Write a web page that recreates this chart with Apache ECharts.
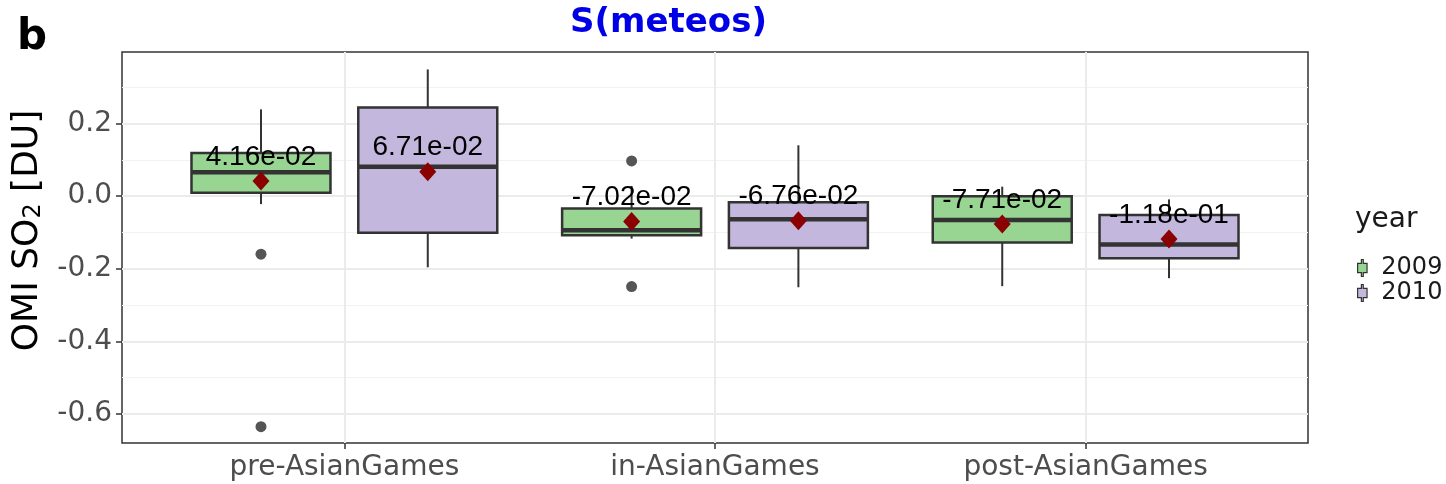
<!DOCTYPE html>
<html>
<head>
<meta charset="utf-8">
<script src="https://cdn.jsdelivr.net/npm/echarts@6/dist/echarts.min.js"></script>
<style>
  html, body { margin: 0; padding: 0; background: #fff; }
  #chart { width: 1446px; height: 484px; }
</style>
</head>
<body>
<div id="chart"></div>
<script>
const categories = ['pre-AsianGames', 'in-AsianGames', 'post-AsianGames']
const years = ['2009', '2010']
const yTicks = [-0.6, -0.4, -0.2, 0, 0.2]
const yMinorTicks = [-0.5, -0.3, -0.1, 0.1, 0.3]

// [lower whisker, Q1, median, Q3, upper whisker]
const box2009 = [
  [-0.022, 0.009, 0.066, 0.119, 0.239],
  [-0.117, -0.108, -0.094, -0.034, 0.028],
  [-0.248, -0.128, -0.066, 0.0, 0.026],
]
const box2010 = [
  [-0.196, -0.101, 0.081, 0.244, 0.349],
  [-0.251, -0.143, -0.064, -0.017, 0.14],
  [-0.226, -0.171, -0.133, -0.052, -0.009],
]
const mean2009 = [0.0416, -0.0702, -0.0771]
const mean2010 = [0.0671, -0.0676, -0.118]
// [category index, value]
const outliers2009 = [[0, -0.16], [0, -0.635], [1, 0.097], [1, -0.249]]
const outliers2010 = []

const fills = { '2009': '#98d592', '2010': '#c4b7dd' }
const DODGE = 0.225
const BOX_W = 0.375

function fmtExp(v) {
  const s = v.toExponential(2)
  return s.replace(/e([+-])(\d)$/, 'e$10$2')
}

function boxData(boxes, off) {
  return boxes.map((b, i) => [i + 1 + off].concat(b))
}

function renderBox(params, api) {
  const x = api.value(0)
  const lo = api.coord([x, api.value(1)])
  const q1 = api.coord([x, api.value(2)])
  const med = api.coord([x, api.value(3)])
  const q3 = api.coord([x, api.value(4)])
  const hi = api.coord([x, api.value(5)])
  const hw = api.size([BOX_W, 0])[0] / 2
  const fill = api.visual('color')
  const line = { stroke: '#333333', lineWidth: 2 }
  return {
    type: 'group',
    children: [
      { type: 'line', shape: { x1: hi[0], y1: hi[1], x2: q3[0], y2: q3[1] }, style: line },
      { type: 'line', shape: { x1: lo[0], y1: lo[1], x2: q1[0], y2: q1[1] }, style: line },
      {
        type: 'rect',
        shape: { x: q3[0] - hw, y: q3[1], width: hw * 2, height: q1[1] - q3[1] },
        style: { fill: fill, stroke: '#333333', lineWidth: 2.5 },
      },
      {
        type: 'line',
        shape: { x1: med[0] - hw, y1: med[1], x2: med[0] + hw, y2: med[1] },
        style: { stroke: '#333333', lineWidth: 4.5 },
      },
    ],
  }
}

function boxSeries(name, boxes, off) {
  return {
    name: name,
    type: 'custom',
    renderItem: renderBox,
    itemStyle: { color: fills[name] },
    encode: { x: 0, y: [1, 2, 3, 4, 5] },
    data: boxData(boxes, off),
    z: 2,
  }
}

function meanSeries(means, off) {
  return {
    type: 'scatter',
    symbol: 'diamond',
    symbolSize: [17, 19],
    itemStyle: { color: '#8b0000', opacity: 1 },
    data: means.map((m, i) => [i + 1 + off, m]),
    z: 4,
    label: {
      show: true,
      position: 'inside',
      offset: [0, -24],
      formatter: (p) => fmtExp(p.value[1]),
      fontFamily: 'Liberation Sans',
      fontSize: 28,
      color: '#000000',
    },
    emphasis: { disabled: true },
  }
}

function outlierSeries(pts, off) {
  return {
    type: 'scatter',
    symbolSize: 11,
    itemStyle: { color: '#555555', opacity: 1 },
    data: pts.map((p) => [p[0] + 1 + off, p[1]]),
    z: 3,
  }
}

const chart = echarts.init(document.getElementById('chart'))
chart.setOption({
  animation: false,
  textStyle: { fontFamily: 'DejaVu Sans' },
  title: [
    {
      text: 'S(meteos)',
      left: 565,
      top: 1,
      textStyle: { fontSize: 34, fontWeight: 'bold', color: '#0000e6', fontFamily: 'DejaVu Sans' },
    },
    {
      text: 'b',
      left: 12,
      top: 12,
      textStyle: { fontSize: 42, fontWeight: 'bold', color: '#000', fontFamily: 'DejaVu Sans' },
    },
    {
      text: 'year',
      left: 1350,
      top: 201,
      textStyle: { fontSize: 28, fontWeight: 'normal', color: '#1a1a1a', fontFamily: 'DejaVu Sans' },
    },
  ],
  legend: {
    data: years.map((y) => ({ name: y, itemStyle: { color: fills[y], borderColor: '#333', borderWidth: 1.2 } })),
    orient: 'vertical',
    left: 1352,
    top: 251,
    icon: 'path://M4,0H6V4H10V14H6V18H4V14H0V4H4Z',
    itemWidth: 10,
    itemHeight: 17,
    itemGap: 1,
    textStyle: { fontSize: 24, color: '#1a1a1a', lineHeight: 17, padding: [0, 0, 0, 9], fontFamily: 'DejaVu Sans' },
    selectedMode: false,
  },
  grid: {
    left: 122,
    right: 138,
    top: 52,
    bottom: 41,
    outerBoundsMode: 'none',
    show: true,
    backgroundColor: '#ffffff',
    borderColor: '#333333',
    borderWidth: 1.5,
  },
  xAxis: {
    type: 'value',
    min: 0.4,
    max: 3.6,
    axisLine: { show: false, onZero: false },
    axisTick: { show: true, length: 6, customValues: [1, 2, 3], lineStyle: { color: '#333', width: 1.5 } },
    axisLabel: {
      customValues: [1, 2, 3],
      formatter: (v) => categories[Math.round(v) - 1],
      fontSize: 28,
      color: '#4d4d4d',
      margin: 11,
    },
    splitLine: { show: true, lineStyle: { color: '#ebebeb', width: 2 } },
  },
  yAxis: [
    {
      type: 'value',
      min: -0.68,
      max: 0.397,
      axisLine: { show: false, onZero: false },
      axisTick: { show: true, length: 6, customValues: yTicks, lineStyle: { color: '#333', width: 1.5 } },
      axisLabel: {
        customValues: yTicks,
        formatter: (v) => v.toFixed(1),
        fontSize: 28,
        color: '#4d4d4d',
        margin: 10,
      },
      splitLine: { show: true, lineStyle: { color: '#ebebeb', width: 2 } },
      name: 'OMI SO{sub|2} [DU]',
      nameLocation: 'middle',
      nameGap: 76,
      nameRotate: 90,
      nameTextStyle: {
        fontSize: 36,
        color: '#000',
        padding: [0, 0, 0, 34],
        rich: { sub: { fontSize: 24, verticalAlign: 'bottom', padding: [12, 0, 0, 0] } },
      },
    },
    {
      type: 'value',
      min: -0.68,
      max: 0.397,
      axisLine: { show: false, onZero: false },
      axisTick: { show: false, customValues: yMinorTicks },
      axisLabel: { show: false, customValues: yMinorTicks },
      splitLine: { show: true, lineStyle: { color: '#f2f2f2', width: 1.2 } },
    },
  ],
  series: [
    boxSeries('2009', box2009, -DODGE),
    boxSeries('2010', box2010, DODGE),
    outlierSeries(outliers2009, -DODGE),
    outlierSeries(outliers2010, DODGE),
    meanSeries(mean2009, -DODGE),
    meanSeries(mean2010, DODGE),
  ],
})
</script>
</body>
</html>
